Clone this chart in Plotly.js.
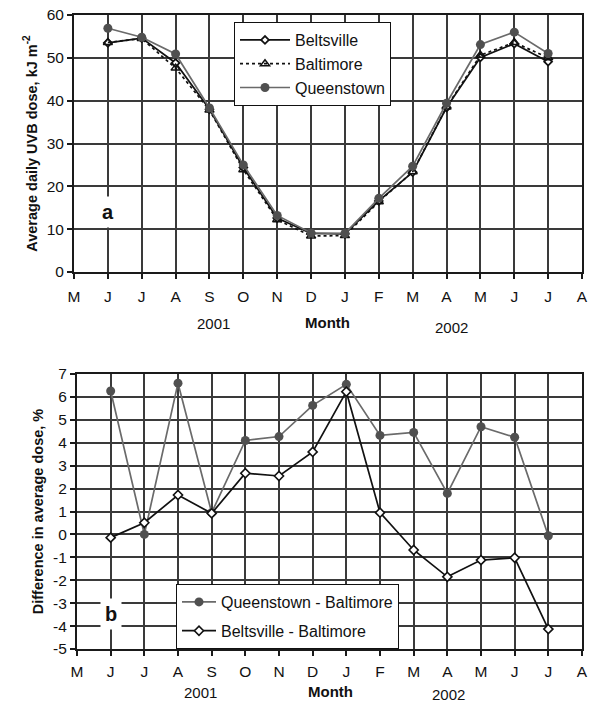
<!DOCTYPE html>
<html>
<head>
<meta charset="utf-8">
<script src="https://cdn.plot.ly/plotly-3.0.1.min.js"></script>
<style>html,body{margin:0;padding:0;background:#fff;}#chart{width:593px;height:711px;}</style>
</head>
<body>
<div id="chart"></div>
<script>
// Categories (months May 2001 .. Aug 2002)
const periods = ['May 2001','Jun 2001','Jul 2001','Aug 2001','Sep 2001','Oct 2001','Nov 2001','Dec 2001',
                 'Jan 2002','Feb 2002','Mar 2002','Apr 2002','May 2002','Jun 2002','Jul 2002','Aug 2002'];
const monthLetters = ['M','J','J','A','S','O','N','D','J','F','M','A','M','J','J','A'];
// Data months (Jun 2001 .. Jul 2002)
const dataMonths = periods.slice(1, 15);

// Panel a: average daily UVB dose, kJ m-2
const beltsville = [53.5, 54.6, 48.8, 38.0, 24.4, 12.6, 9.0, 8.9, 16.6, 23.3, 38.4, 50.1, 53.3, 49.1];
const baltimore  = [53.6, 54.5, 47.6, 37.8, 23.9, 12.2, 8.4, 8.5, 16.4, 23.4, 38.5, 50.6, 53.6, 50.0];
const queenstown = [56.9, 54.8, 50.9, 38.3, 25.0, 13.2, 9.1, 9.0, 17.2, 24.7, 39.4, 53.1, 56.0, 51.0];

// Panel b: difference in average dose, %
const queenMinusBalt = [6.26, 0.0, 6.6, 0.95, 4.1, 4.27, 5.63, 6.55, 4.32, 4.45, 1.79, 4.7, 4.24, -0.06];
const beltMinusBalt  = [-0.14, 0.51, 1.72, 0.92, 2.67, 2.55, 3.6, 6.23, 0.95, -0.68, -1.85, -1.12, -1.02, -4.13];

// Tick labels for panel b (plain hyphen minus as in the original)
const diffTicks = [-5, -4, -3, -2, -1, 0, 1, 2, 3, 4, 5, 6, 7];
const diffTickLabels = ['-5', '-4', '-3', '-2', '-1', '0', '1', '2', '3', '4', '5', '6', '7'];

const FONT = 'Liberation Sans, Arial, sans-serif';
const GRID = '#3a3a3a';
const GRAYLINE = '#6a6a6a';
const GRAYMARK = '#505050';
const TICKFONT = {family: FONT, size: 15.5, color: '#111'};

const traces = [
  {x: dataMonths, y: beltsville, name: 'Beltsville', xaxis: 'x', yaxis: 'y', mode: 'lines+markers',
   line: {color: '#111', width: 1.7}, marker: {symbol: 'diamond', size: 6, color: '#fff', line: {color: '#111', width: 1.8}},
   legend: 'legend'},
  {x: dataMonths, y: baltimore, name: 'Baltimore', xaxis: 'x', yaxis: 'y', mode: 'lines+markers',
   line: {color: '#111', width: 1.7, dash: 'dot'}, marker: {symbol: 'triangle-up-open', size: 8, color: '#111', line: {width: 1.5}},
   legend: 'legend'},
  {x: dataMonths, y: queenstown, name: 'Queenstown', xaxis: 'x', yaxis: 'y', mode: 'lines+markers',
   line: {color: GRAYLINE, width: 1.7}, marker: {symbol: 'circle', size: 9, color: GRAYMARK},
   legend: 'legend'},
  {x: dataMonths, y: queenMinusBalt, name: 'Queenstown - Baltimore', xaxis: 'x2', yaxis: 'y2', mode: 'lines+markers',
   line: {color: GRAYLINE, width: 1.7}, marker: {symbol: 'circle', size: 9, color: GRAYMARK},
   legend: 'legend2', legendgroup: 'q'},
  {x: dataMonths, y: beltMinusBalt, name: 'Beltsville - Baltimore', xaxis: 'x2', yaxis: 'y2', mode: 'lines+markers',
   line: {color: '#111', width: 1.7}, marker: {symbol: 'diamond', size: 7, color: '#fff', line: {color: '#111', width: 1.6}},
   legend: 'legend2', legendgroup: 'b'}
];

const W = 593, H = 711;
const px = v => v / W;
const py = v => (H - v) / H;

const xCommon = {
  type: 'category', categoryorder: 'array', categoryarray: periods,
  range: [0, 15], tickvals: periods, ticktext: monthLetters,
  showgrid: true, gridcolor: GRID, gridwidth: 2,
  showline: true, linecolor: '#1a1a1a', linewidth: 2, mirror: true,
  ticks: 'outside', ticklen: 5, tickcolor: '#1a1a1a', tickwidth: 2,
  ticklabelstandoff: 4,
  tickfont: TICKFONT, zeroline: false, fixedrange: true
};
const yCommon = {
  showgrid: true, gridcolor: GRID, gridwidth: 2,
  showline: true, linecolor: '#1a1a1a', linewidth: 2, mirror: true,
  ticks: 'outside', ticklen: 5, tickcolor: '#1a1a1a', tickwidth: 2,
  tickfont: TICKFONT, zeroline: false, fixedrange: true
};

const layout = {
  width: W, height: H,
  margin: {l: 0, r: 0, t: 0, b: 0},
  paper_bgcolor: '#fff', plot_bgcolor: '#fff',
  font: {family: FONT, color: '#111'},
  xaxis: Object.assign({}, xCommon, {domain: [px(74), px(582)], anchor: 'y'}),
  yaxis: Object.assign({}, yCommon, {domain: [py(272), py(15)], anchor: 'x', range: [0, 60], dtick: 10, tick0: 0,
    title: {text: '<b>Average daily UVB dose, kJ m<sup>-2</sup></b>', font: {family: FONT, size: 14.5, color: '#111'}, standoff: 6}}),
  xaxis2: Object.assign({}, xCommon, {domain: [px(77), px(582)], anchor: 'y2', ticklabelstandoff: 2}),
  yaxis2: Object.assign({}, yCommon, {domain: [py(649), py(374)], anchor: 'x2', range: [-5, 7],
    tickmode: 'array', tickvals: diffTicks, ticktext: diffTickLabels,
    title: {text: '<b>Difference in average dose, %</b>', font: {family: FONT, size: 14.5, color: '#111'}, standoff: 6}}),
  legend: {x: px(234), y: py(22), xanchor: 'left', yanchor: 'top', bgcolor: '#fff', bordercolor: '#111', borderwidth: 1,
    font: {family: FONT, size: 16, color: '#111'}, itemwidth: 50, tracegroupgap: 0, traceorder: 'normal'},
  legend2: {x: px(176), y: py(584), xanchor: 'left', yanchor: 'top', bgcolor: '#fff', bordercolor: '#111', borderwidth: 1,
    font: {family: FONT, size: 16, color: '#111'}, itemwidth: 34, tracegroupgap: 5, traceorder: 'grouped'},
  showlegend: true,
  annotations: [
    {xref: 'x', yref: 'y', x: 'Jun 2001', y: 14, text: '<b>a</b>', showarrow: false, bgcolor: '#fff',
     font: {family: FONT, size: 20, color: '#111'}, borderpad: 4},
    {xref: 'x2', yref: 'y2', x: 'Jun 2001', y: -3.47, text: '<b>b</b>', showarrow: false, bgcolor: '#fff',
     font: {family: FONT, size: 20, color: '#111'}, borderpad: 4},
    {xref: 'paper', yref: 'paper', x: px(195), y: py(323), text: '2001', showarrow: false, font: {family: FONT, size: 15, color: '#111'}},
    {xref: 'paper', yref: 'paper', x: px(327), y: py(322), text: '<b>Month</b>', showarrow: false, font: {family: FONT, size: 15, color: '#111'}},
    {xref: 'paper', yref: 'paper', x: px(470), y: py(327), text: '2002', showarrow: false, font: {family: FONT, size: 15, color: '#111'}},
    {xref: 'paper', yref: 'paper', x: px(200), y: py(703), text: '2001', showarrow: false, font: {family: FONT, size: 15, color: '#111'}},
    {xref: 'paper', yref: 'paper', x: px(330), y: py(702), text: '<b>Month</b>', showarrow: false, font: {family: FONT, size: 15, color: '#111'}},
    {xref: 'paper', yref: 'paper', x: px(467), y: py(705), text: '2002', showarrow: false, font: {family: FONT, size: 15, color: '#111'}}
  ]
};

Plotly.newPlot('chart', traces, layout, {displayModeBar: false, staticPlot: true});
</script>
</body>
</html>
